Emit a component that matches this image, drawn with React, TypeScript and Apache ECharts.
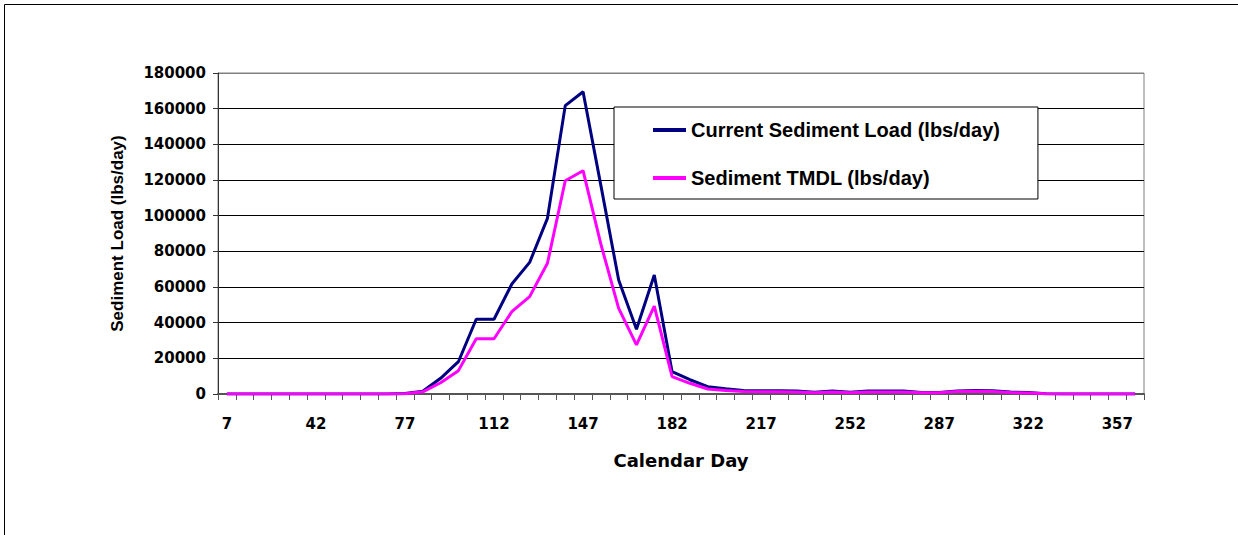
import React, { useEffect, useRef } from "react";
import * as echarts from "echarts";

const days: string[] = [
  "7", "14", "21", "28", "35", "42", "49", "56", "63", "70", "77", "84", "91",
  "98", "105", "112", "119", "126", "133", "140", "147", "154", "161", "168",
  "175", "182", "189", "196", "203", "210", "217", "224", "231", "238", "245",
  "252", "259", "266", "273", "280", "287", "294", "301", "308", "315", "322",
  "329", "336", "343", "350", "357", "364",
];

const currentLoad: number[] = [
  0, 0, 0, 0, 0, 0, 0, 0, 0, 0, 300, 1500, 8800, 18100, 41900, 41900, 61700,
  73800, 98500, 161700, 169500, 117000, 63900, 36300, 66700, 12500, 8000, 4100,
  2900, 2000, 1800, 1800, 1700, 1000, 1700, 1000, 1700, 1700, 1700, 900, 900,
  1700, 1900, 1800, 1100, 800, 200, 0, 0, 0, 0, 0,
];

const tmdl: number[] = [
  0, 0, 0, 0, 0, 0, 0, 0, 0, 0, 200, 1200, 6300, 13100, 31000, 31000, 46200,
  54600, 73300, 119600, 125200, 84000, 48000, 27500, 49300, 9700, 6000, 2800,
  2000, 1400, 1200, 1200, 1100, 700, 1100, 700, 1100, 1100, 1100, 700, 700,
  1400, 1500, 1400, 800, 500, 100, 0, 0, 0, 0, 0,
];

const seriesNames: string[] = [
  "Current Sediment Load (lbs/day)",
  "Sediment TMDL (lbs/day)",
];

const tickFont = {
  fontFamily: "DejaVu Sans",
  fontWeight: "bold" as const,
  fontSize: 15,
  color: "#000",
};

export default function App() {
  const ref = useRef<HTMLDivElement>(null);

  useEffect(() => {
    document.body.style.margin = "0";
    if (!ref.current) return;
    const chart = echarts.init(ref.current, null, { renderer: "svg" });
    chart.setOption({
      animation: false,
      backgroundColor: "#fff",
      graphic: [
        {
          type: "rect",
          shape: { x: 4.5, y: 4.5, width: 1400, height: 700 },
          style: { fill: "none", stroke: "#000", lineWidth: 1 },
          silent: true,
          z: -1,
        },
      ],
      grid: {
        left: 218,
        top: 73,
        right: 94,
        bottom: 141,
        show: true,
        borderColor: "#808080",
        borderWidth: 1,
        backgroundColor: "transparent",
      },
      legend: {
        orient: "vertical",
        left: 614,
        top: 107,
        backgroundColor: "#fff",
        borderColor: "#000",
        borderWidth: 1,
        padding: [13, 38, 11, 39],
        itemGap: 28,
        itemWidth: 33,
        itemHeight: 4,
        icon: "rect",
        textStyle: {
          fontFamily: "Liberation Sans",
          fontWeight: "bold",
          fontSize: 20,
          color: "#000",
          padding: [0, 0, 0, 0],
        },
        data: seriesNames,
      },
      xAxis: {
        type: "category",
        data: days,
        boundaryGap: true,
        name: "Calendar Day",
        nameLocation: "middle",
        nameGap: 57,
        nameTextStyle: {
          fontFamily: "DejaVu Sans",
          fontWeight: "bold",
          fontSize: 18,
          color: "#000",
        },
        axisLine: { show: true, lineStyle: { color: "#555", width: 2 } },
        axisTick: {
          show: true,
          interval: 0,
          alignWithLabel: false,
          length: 6,
          lineStyle: { color: "#555", width: 1 },
        },
        axisLabel: { ...tickFont, interval: 4, margin: 22 },
        splitLine: { show: false },
      },
      yAxis: {
        type: "value",
        min: 0,
        max: 180000,
        interval: 20000,
        name: "Sediment Load (lbs/day)",
        nameLocation: "middle",
        nameGap: 92,
        nameTextStyle: {
          fontFamily: "Liberation Sans",
          fontWeight: "bold",
          fontSize: 17,
          color: "#000",
        },
        axisLine: { show: true, lineStyle: { color: "#333", width: 1 } },
        axisTick: { show: true, length: 5, lineStyle: { color: "#333" } },
        axisLabel: {
          ...tickFont,
          margin: 12,
          formatter: (v: number) => String(v),
        },
        splitLine: {
          show: true,
          lineStyle: {
            color: [
              "#000", "#000", "#000", "#000", "#000",
              "#000", "#000", "#000", "#000", "#808080",
            ],
            width: 1,
          },
        },
      },
      series: [
        {
          name: seriesNames[0],
          type: "line",
          data: currentLoad,
          showSymbol: false,
          symbol: "none",
          lineStyle: { color: "#000080", width: 3 },
          itemStyle: { color: "#000080" },
          z: 2,
        },
        {
          name: seriesNames[1],
          type: "line",
          data: tmdl,
          showSymbol: false,
          symbol: "none",
          lineStyle: { color: "#ff00ff", width: 3 },
          itemStyle: { color: "#ff00ff" },
          z: 3,
        },
      ],
    });
    return () => chart.dispose();
  }, []);

  return <div ref={ref} style={{ width: 1238, height: 535 }} />;
}
